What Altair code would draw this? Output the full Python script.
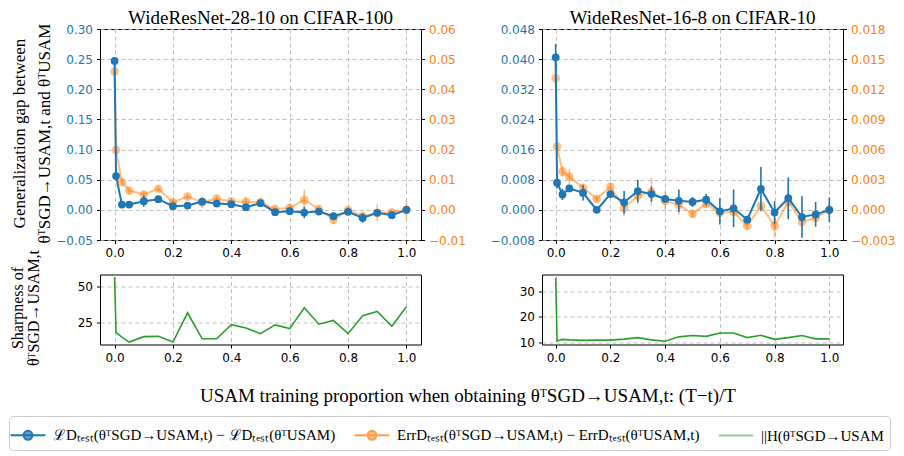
import altair as alt
import pandas as pd

BLUE = "#1f77b4"
ORANGE = "#ff7f0e"
GREEN = "#2ca02c"
SERIF = "Liberation Serif"
SANS = "DejaVu Sans"

# ---------------- data ----------------
x_vals = [0.0, 0.005, 0.025, 0.05, 0.1, 0.15, 0.2, 0.25, 0.3, 0.35, 0.4, 0.45,
          0.5, 0.55, 0.6, 0.65, 0.7, 0.75, 0.8, 0.85, 0.9, 0.95, 1.0]
x_ticks = [0.0, 0.2, 0.4, 0.6, 0.8, 1.0]

panel_titles = ["WideResNet-28-10 on CIFAR-100", "WideResNet-16-8 on CIFAR-10"]

# WideResNet-28-10 on CIFAR-100
loss_gap_a = [0.247, 0.056, 0.0088, 0.0088, 0.0144, 0.0177, 0.0061, 0.0072, 0.0138, 0.0105,
              0.0094, 0.0044, 0.0111, -0.0039, -0.0022, -0.0044, -0.0028, -0.0105, -0.0033,
              -0.0133, -0.005, -0.0088, 0.0]
loss_sd_a = [0.002, 0.002, 0.002, 0.002, 0.0095, 0.003, 0.002, 0.002, 0.004, 0.002, 0.002,
             0.002, 0.002, 0.002, 0.003, 0.0095, 0.003, 0.002, 0.002, 0.008, 0.003, 0.002, 0.002]
err_gap_a = [0.0459, 0.0199, 0.0092, 0.0064, 0.0051, 0.0070, 0.0025, 0.0044, 0.0025, 0.0037,
             0.0028, 0.0027, 0.0025, 0.0003, 0.0006, 0.0033, 0.0003, -0.0033, 0.0, -0.0021,
             -0.0010, -0.0008, 0.0]
err_sd_a = [0.001, 0.001, 0.001, 0.001, 0.001, 0.001, 0.001, 0.001, 0.0019, 0.001, 0.001,
            0.0017, 0.0015, 0.001, 0.0015, 0.0035, 0.001, 0.0012, 0.001, 0.001, 0.0028, 0.001, 0.003]
sharp_a = [56.4, 17.9, 14.5, 11.1, 14.9, 15.1, 11.1, 31.6, 13.4, 13.4, 23.3, 21.0, 17.0,
           23.1, 20.5, 35.1, 23.6, 26.2, 17.0, 29.5, 32.5, 22.2, 35.8]

# WideResNet-16-8 on CIFAR-10
loss_gap_b = [0.0405, 0.0072, 0.0041, 0.0057, 0.0045, 0.0, 0.0042, 0.002, 0.005, 0.0042,
              0.0029, 0.0024, 0.0021, 0.0027, -0.0004, 0.0004, -0.0026, 0.0056, -0.0007,
              0.0031, -0.0019, -0.0012, 0.0]
loss_sd_b = [0.0035, 0.0015, 0.0015, 0.0008, 0.002, 0.0005, 0.0008, 0.003, 0.003, 0.002,
             0.0008, 0.003, 0.0013, 0.0015, 0.0035, 0.005, 0.001, 0.0058, 0.003, 0.0055,
             0.0055, 0.0033, 0.0033]
err_gap_b = [0.0131, 0.0063, 0.0038, 0.0033, 0.0022, 0.0011, 0.0023, 0.0002, 0.0014, 0.0018,
             0.0009, 0.0005, -0.0004, 0.0006, -0.0003, -0.0002, -0.0016, 0.0004, -0.0016,
             0.0008, -0.0012, -0.0008, 0.0]
err_sd_b = [0.0003, 0.0004, 0.0005, 0.0008, 0.0004, 0.0003, 0.0004, 0.0008, 0.0008, 0.0014,
            0.0009, 0.001, 0.0004, 0.0004, 0.0004, 0.0004, 0.0004, 0.0006, 0.0012, 0.0018,
            0.0005, 0.0004, 0.0005]
sharp_b = [35.3, 10.6, 11.2, 11.0, 10.8, 10.9, 10.9, 11.3, 11.9, 11.0, 10.5, 12.2, 12.7,
           12.4, 13.7, 13.7, 11.9, 12.8, 11.2, 11.9, 12.7, 11.4, 11.4]

loss_ticks_a = [-0.05, 0.0, 0.05, 0.10, 0.15, 0.20, 0.25, 0.30]
err_ticks_a = [-0.01, 0.0, 0.01, 0.02, 0.03, 0.04, 0.05, 0.06]
loss_ticks_b = [-0.008, 0.0, 0.008, 0.016, 0.024, 0.032, 0.040, 0.048]
err_ticks_b = [-0.003, 0.0, 0.003, 0.006, 0.009, 0.012, 0.015, 0.018]
sharp_ticks_a = [25, 50]
sharp_ticks_b = [10, 20, 30]

series_names = [
    "ℒDₜₑₛₜ(θᵀSGD→USAM,t) − ℒDₜₑₛₜ(θᵀUSAM)",
    "ErrDₜₑₛₜ(θᵀSGD→USAM,t) − ErrDₜₑₛₜ(θᵀUSAM,t)",
    "||H(θᵀSGD→USAM,t)||₂",
]
ytitle_top = ["Generalization gap between", "θᵀSGD→USAM,t and θᵀUSAM"]
ytitle_bot = ["Sharpness of", "θᵀSGD→USAM,t"]
xtitle = "USAM training proportion when obtaining θᵀSGD→USAM,t: (T−t)/T"


def make_df(loss, lsd, err, esd, sharp):
    d = pd.DataFrame({"x": x_vals, "loss": loss, "lsd": lsd, "err": err, "esd": esd, "sharp": sharp})
    d["loss_lo"] = d["loss"] - d["lsd"]
    d["loss_hi"] = d["loss"] + d["lsd"]
    d["err_lo"] = d["err"] - d["esd"]
    d["err_hi"] = d["err"] + d["esd"]
    return d


df_a = make_df(loss_gap_a, loss_sd_a, err_gap_a, err_sd_a, sharp_a)
df_b = make_df(loss_gap_b, loss_sd_b, err_gap_b, err_sd_b, sharp_b)

XSCALE = alt.Scale(domain=[-0.05, 1.05], nice=False, zero=False)

W_A, W_B, H_TOP, H_BOT = 321, 301, 211, 70


def xenc():
    return alt.X("x:Q", scale=XSCALE,
                 axis=alt.Axis(values=x_ticks, format=".1f", title=None, grid=True))


def top_panel(df, title, width, ldom, lticks, lfmt, edom, eticks, efmt, with_title):
    base = alt.Chart(df)
    if with_title:
        extra = dict(title=ytitle_top, titleX=-81, titleY=104, titleAngle=270,
                     titleBaseline="middle", titleFontSize=17, titleLineHeight=25)
    else:
        extra = dict(title=None)
    laxis = alt.Axis(values=lticks, format=lfmt, labelColor=BLUE, orient="left", grid=True, **extra)
    lscale = alt.Scale(domain=ldom, nice=False, zero=False)
    eaxis = alt.Axis(values=eticks, format=efmt, labelColor=ORANGE, orient="right",
                     grid=False, title=None, labelAlign="left")
    escale = alt.Scale(domain=edom, nice=False, zero=False)

    orange = alt.layer(
        base.mark_rule(color=ORANGE, strokeWidth=1.6, opacity=0.5).encode(
            x=xenc(), y=alt.Y("err_lo:Q", scale=escale, axis=eaxis), y2="err_hi:Q"),
        base.mark_line(color=ORANGE, strokeWidth=2, opacity=0.5).encode(
            x=xenc(), y=alt.Y("err:Q", scale=escale, axis=eaxis)),
        base.mark_point(filled=True, color=ORANGE, size=75, opacity=0.5).encode(
            x=xenc(), y=alt.Y("err:Q", scale=escale, axis=eaxis)),
    )
    blue = alt.layer(
        base.mark_rule(color=BLUE, strokeWidth=1.6).encode(
            x=xenc(), y=alt.Y("loss_lo:Q", scale=lscale, axis=laxis), y2="loss_hi:Q"),
        base.mark_line(color=BLUE, strokeWidth=2).encode(
            x=xenc(), y=alt.Y("loss:Q", scale=lscale, axis=laxis)),
        base.mark_point(filled=True, color=BLUE, size=60, opacity=1).encode(
            x=xenc(), y=alt.Y("loss:Q", scale=lscale, axis=laxis)),
    )
    return alt.layer(orange, blue).resolve_scale(y="independent").properties(
        width=width, height=H_TOP,
        title=alt.TitleParams(title, font=SERIF, fontSize=19, fontWeight="normal",
                              color="black", offset=-5))


PATH_LC = "M-1.45,0L1.45,0M0.37,0A0.37,0.37,0,1,1,-0.37,0A0.37,0.37,0,1,1,0.37,0Z"
PATH_L = "M-1.45,0L1.45,0"


def bottom_panel(df, width, dom, ticks, with_title, with_legend):
    if with_title:
        extra = dict(title=ytitle_bot, titleX=-83, titleY=33, titleAngle=270,
                     titleBaseline="middle", titleFontSize=16, titleLineHeight=16)
    else:
        extra = dict(title=None)
    yscale = alt.Scale(domain=dom, nice=False, zero=False)
    yaxis = alt.Axis(values=ticks, format="d", labelColor="black", grid=True, **extra)
    line = alt.Chart(df).mark_line(color=GREEN, strokeWidth=1.6).encode(
        x=xenc(), y=alt.Y("sharp:Q", scale=yscale, axis=yaxis))
    layers = [line]
    if with_legend:
        leg = alt.Legend(title=None, orient="none", legendX=-91, legendY=387,
                         direction="horizontal", columns=3, symbolSize=576,
                         symbolStrokeWidth=2, labelFont=SERIF, labelFontSize=15,
                         labelLimit=400, labelOffset=12, columnPadding=14, padding=6,
                         strokeColor="#cccccc", cornerRadius=4, fillColor="white",
                         labelExpr="indexof(datum.label, '||H') == 0 ? substring(datum.label, 0, 14) : datum.label")
        ldf = pd.DataFrame({"series": series_names, "x": [0.5] * 3, "sharp": [20.0] * 3})
        dom_s = series_names
        carrier = alt.Chart(ldf).transform_filter("false").mark_point(filled=True).encode(
            x=xenc(),
            y=alt.Y("sharp:Q", scale=yscale, axis=yaxis),
            fill=alt.Fill("series:N", scale=alt.Scale(domain=dom_s, range=[BLUE, ORANGE, GREEN]), legend=leg),
            stroke=alt.Stroke("series:N", scale=alt.Scale(domain=dom_s, range=[BLUE, ORANGE, GREEN]), legend=leg),
            shape=alt.Shape("series:N", scale=alt.Scale(domain=dom_s, range=[PATH_LC, PATH_LC, PATH_L]), legend=leg),
            opacity=alt.Opacity("series:N", scale=alt.Scale(domain=dom_s, range=[1, 0.5, 1]), legend=leg),
        )
        layers.append(carrier)
    return alt.layer(*layers).properties(width=width, height=H_BOT)


top_a = top_panel(df_a, panel_titles[0], W_A, [-0.05, 0.30], loss_ticks_a, ".2f",
                  [-0.01, 0.06], err_ticks_a, ".2f", True)
top_b = top_panel(df_b, panel_titles[1], W_B, [-0.008, 0.048], loss_ticks_b, ".3f",
                  [-0.003, 0.018], err_ticks_b, ".3f", False)
bot_a = bottom_panel(df_a, W_A, [9.4, 58.4], sharp_ticks_a, True, False)
bot_b = bottom_panel(df_b, W_B, [9.2, 36.6], sharp_ticks_b, False, True)

chart = alt.concat(
    top_a, top_b, bot_a, bot_b, columns=2,
    spacing={"row": 34.5, "column": 121}, bounds="flush", align="each",
).properties(
    padding={"left": 0, "top": 0, "right": 0, "bottom": 0},
    title=alt.TitleParams(xtitle, orient="bottom", anchor="middle", frame="bounds",
                          offset=-64, dx=16, font=SERIF, fontSize=19,
                          fontWeight="normal", color="black"),
).configure_axis(
    labelFont=SANS, labelFontSize=12, tickColor="black", tickSize=3.5, tickWidth=1,
    domain=False, gridColor="#b0b0b0", gridDash=[4, 3], gridWidth=0.8, labelPadding=4,
    titleFont=SERIF, titleFontWeight="normal", titleColor="black",
).configure_view(stroke="black", strokeWidth=1)

chart.save("out.html", embed_options={"renderer": "svg", "actions": False})
